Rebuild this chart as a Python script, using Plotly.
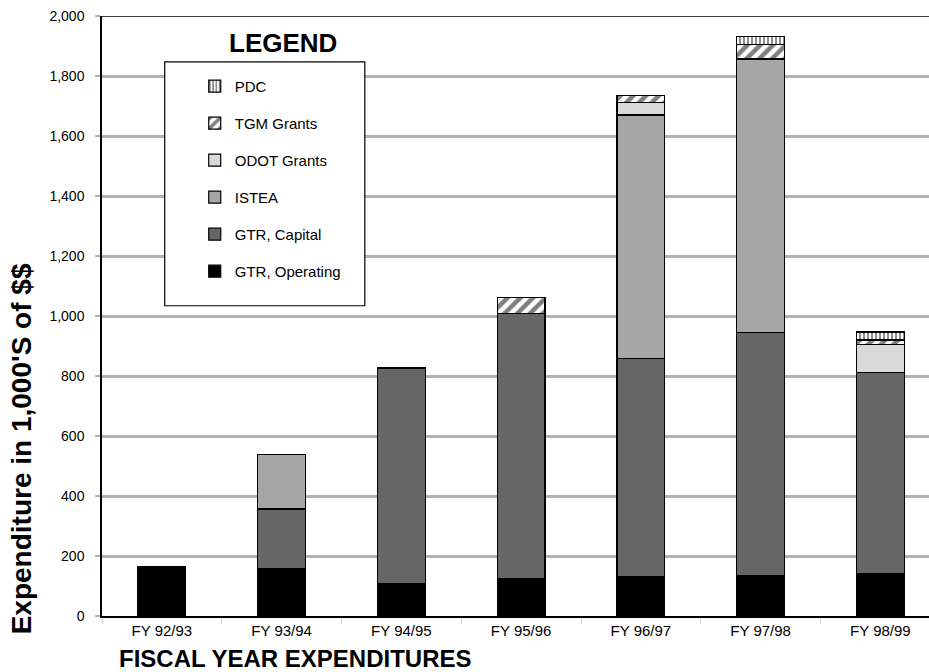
import plotly.graph_objects as go

categories = ["FY 92/93", "FY 93/94", "FY 94/95", "FY 95/96", "FY 96/97", "FY 97/98", "FY 98/99"]
gtr_operating = [164, 158, 108, 126, 131, 136, 143]
gtr_capital = [None, 199, 719, 882, 727, 809, 669]
istea = [None, 181, None, None, 812, 912, None]
odot_grants = [None, None, None, None, 43, None, 94]
tgm_grants = [None, None, None, 53, 22, 48, 14]
pdc = [None, None, None, None, None, 28, 27]
y_ticks = [0, 200, 400, 600, 800, 1000, 1200, 1400, 1600, 1800, 2000]

FONT = "Liberation Sans, Arial, sans-serif"
W, H = 929, 672
L, R, T, B = 102.3, 0, 16, 55.5
PW, PH = W - L - R, H - T - B

def px(x):
    return (x - L) / PW

def py(y):
    return (H - B - y) / PH

series = [
    ("GTR, Operating", gtr_operating, dict(color="#000000")),
    ("GTR, Capital", gtr_capital, dict(color="#666666")),
    ("ISTEA", istea, dict(color="#a6a6a6")),
    ("ODOT Grants", odot_grants, dict(color="#d9d9d9")),
    ("TGM Grants", tgm_grants, dict(color="#ffffff",
                                    pattern=dict(shape="/", fgcolor="#000000", bgcolor="#ffffff",
                                                 size=9, solidity=0.5))),
    ("PDC", pdc, dict(color="#ffffff",
                      pattern=dict(shape="|", fgcolor="#000000", bgcolor="#ffffff",
                                   size=4, solidity=0.45))),
]

fig = go.Figure()
n = len(series)
for i, (name, vals, mk) in enumerate(series):
    mk = dict(mk)
    mk["line"] = dict(color="#000000", width=1.2)
    fig.add_trace(go.Bar(x=categories, y=vals, name=name, marker=mk,
                         legendgroup="g%d" % i, legendrank=n - i))

fig.update_layout(
    width=W, height=H,
    margin=dict(l=L, r=R, t=T, b=B, pad=0),
    paper_bgcolor="white", plot_bgcolor="white",
    barmode="stack", bargap=0.6,
    font=dict(family=FONT, size=14, color="#000000"),
    showlegend=True,
    legend=dict(
        x=px(165), y=py(70), xanchor="left", yanchor="top",
        traceorder="grouped", tracegroupgap=14.5,
        bgcolor="rgba(0,0,0,0)", borderwidth=0,
        font=dict(family=FONT, size=15, color="#000000"),
        indentation=30, entrywidth=135,
    ),
    xaxis=dict(
        type="category", range=[-0.5, 6.406],
        showline=True, linecolor="#000000", linewidth=1.5,
        ticks="outside", tickson="boundaries", ticklen=6, tickcolor="#d0d0d0",
        showgrid=False,
        tickfont=dict(family=FONT, size=15, color="#000000"),
    ),
    yaxis=dict(
        range=[0, 2000], tickvals=y_ticks, tickformat=",",
        showline=True, linecolor="#000000", linewidth=1.5,
        showgrid=True, gridcolor="#b3b3b3", gridwidth=3,
        zeroline=False,
        ticks="outside", ticklen=5, tickcolor="#b3b3b3", tickwidth=2,
        ticklabelstandoff=8,
        tickfont=dict(family=FONT, size=14, color="#000000"),
    ),
    shapes=[
        dict(type="line", xref="paper", yref="y", x0=0, x1=1, y0=2000, y1=2000,
             line=dict(color="#000000", width=1.5)),
        dict(type="rect", xref="paper", yref="paper", layer="above",
             x0=px(165), x1=px(365), y0=py(306), y1=py(62),
             fillcolor="white", line=dict(color="#000000", width=1.2)),
    ],
    annotations=[
        dict(text="<b>Expenditure in 1,000'S of $$</b>", xref="paper", yref="paper",
             x=px(22), y=py(449), xanchor="center", yanchor="middle", textangle=-90,
             showarrow=False, font=dict(family=FONT, size=28, color="#000000")),
        dict(text="<b>FISCAL YEAR EXPENDITURES</b>", xref="paper", yref="paper",
             x=px(117), y=py(659), xanchor="left", yanchor="middle",
             showarrow=False, font=dict(family=FONT, size=24, color="#000000")),
        dict(text="<b>LEGEND</b>", xref="paper", yref="paper",
             x=px(283), y=py(43), xanchor="center", yanchor="middle",
             showarrow=False, font=dict(family=FONT, size=26, color="#000000")),
    ],
)

fig.write_html("out.html", config={"displayModeBar": False},
               post_script="document.body.style.margin='0';document.body.style.padding='0';")
